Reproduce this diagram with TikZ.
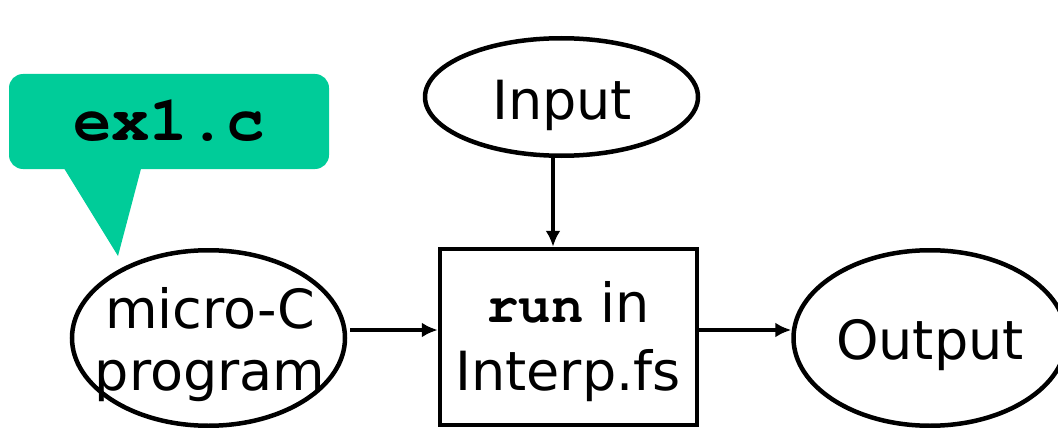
\documentclass[tikz,border=0pt]{standalone}
\usepackage{fontspec}
\setmainfont{DejaVu Sans}
\newfontfamily\codefont{texgyrecursor}[Extension=.otf, UprightFont=*-regular, BoldFont=*-bold]
\usetikzlibrary{shapes.geometric,arrows.meta}
\definecolor{calloutgreen}{RGB}{0,204,153}
\tikzset{
  lbl/.style={font=\fontsize{54}{62}\selectfont, align=center, inner sep=0pt},
  oval/.style={ellipse, draw, line width=4.5pt, inner sep=0pt, minimum width=273pt},
  procbox/.style={rectangle, draw, line width=4.5pt, inner sep=0pt},
  flow/.style={line width=4.5pt, -{Latex[length=16pt,width=15pt]}},
}
\begin{document}
\begin{tikzpicture}[x=1pt,y=-1pt]
\useasboundingbox (0,0) rectangle (1058,428);
% callout
\fill[calloutgreen, rounded corners=14pt] (9,74) rectangle (329,169);
\fill[calloutgreen] (62,165) -- (142,165) -- (118,256) -- cycle;
\node[inner sep=0pt, anchor=base, font=\codefont\bfseries\fontsize{64}{70}\selectfont] (callouttext) at (169,140) {ex1.c};
% shapes
\node[oval, minimum height=117.5pt] (input) at (561.5,97) {};
\node[oval, minimum height=175.5pt] (prog) at (208.5,338) {};
\node[procbox, minimum width=257pt, minimum height=176pt] (run) at (568.5,337) {};
\node[oval, minimum height=175.5pt] (output) at (930,338) {};
% labels
\node[lbl, anchor=base] (inputlbl) at (562,119) {Input};
\node[lbl] (proglbl) at (210,345) {micro-C\\program};
\node[lbl, font=\fontsize{54}{68}\selectfont] (runlbl) at (568,342) {{\codefont\bfseries run} in\\Interp.fs};
\node[lbl, anchor=base] (outputlbl) at (930,359) {Output};
% connectors
\draw[flow] (input.south -| 553,0) -- (run.north -| 553,0);
\draw[flow] (prog.east |- 0,330) ++(3,0) -- (run.west |- 0,330);
\draw[flow] (run.east |- 0,330) -- (output.west |- 0,330);
\end{tikzpicture}
\end{document}
